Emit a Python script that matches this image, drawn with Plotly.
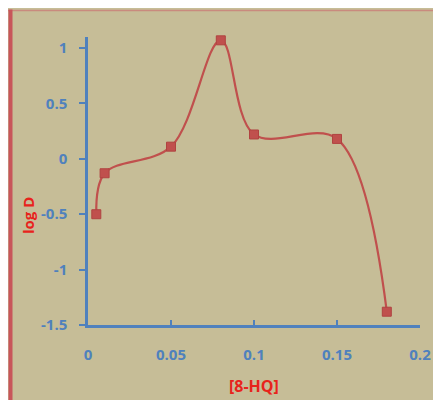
import plotly.graph_objects as go

# Data
hq_conc = [0.005, 0.01, 0.05, 0.08, 0.10, 0.15, 0.18]
log_d = [-0.50, -0.13, 0.11, 1.07, 0.22, 0.18, -1.38]
x_ticks = [0, 0.05, 0.1, 0.15, 0.2]
x_tick_labels = ["0", "0.05", "0.1", "0.15", "0.2"]
y_ticks = [1, 0.5, 0, -0.5, -1, -1.5]
y_tick_labels = ["1", "0.5", "0", "-0.5", "-1", "-1.5"]

# page body has an 8px margin, so figure coordinates are offset by 8px
OFF = 8
W, H = 441, 400
ML, MT = 88 - OFF, 37 - OFF
PLOT_R, PLOT_B = 420 - OFF, 325 - OFF
MR, MB = W - PLOT_R, H - PLOT_B
PW, PH = W - ML - MR, H - MT - MB

def px_x(p):
    return (p - OFF - ML) / PW

def px_y(p):
    return (H - MB - (p - OFF)) / PH

BG = "#C6BD97"
BLUE = "#4F81BD"
RED = "#C0504D"
TITLE_RED = "#E8231C"

fig = go.Figure()
# invisible helper trace on an overlaid axis that only draws the y tick marks
fig.add_trace(go.Scatter(
    x=hq_conc, y=log_d, yaxis="y2", mode="lines",
    line=dict(color="rgba(0,0,0,0)", width=0),
    showlegend=False, hoverinfo="skip",
))
fig.add_trace(go.Scatter(
    x=hq_conc, y=log_d, mode="lines+markers",
    line=dict(color=RED, width=2.2, shape="spline", smoothing=1.0),
    marker=dict(symbol="square", size=9, color=RED, line=dict(color="#B04340", width=1)),
    showlegend=False, cliponaxis=False,
))

shapes = [
    dict(type="line", xref="paper", yref="paper", x0=px_x(8), x1=px_x(W + 20), y0=px_y(10.5), y1=px_y(10.5),
         line=dict(color="#C98A7E", width=1.5), layer="below"),
    dict(type="line", xref="paper", yref="paper", x0=px_x(10.5), x1=px_x(10.5), y0=px_y(H + 20), y1=px_y(9.5),
         line=dict(color="#C8555A", width=4), layer="below"),
]

annotations = [
    dict(text="<b>log D</b>", xref="paper", yref="paper", x=px_x(28), y=px_y(216),
         textangle=-90, showarrow=False, xanchor="center", yanchor="middle",
         font=dict(family="Open Sans", size=15, color=TITLE_RED)),
    dict(text="<b>[8-HQ]</b>", xref="paper", yref="paper", x=px_x(254), y=px_y(386),
         showarrow=False, xanchor="center", yanchor="middle",
         font=dict(family="Open Sans", size=16, color=TITLE_RED)),
]

fig.update_layout(
    width=W, height=H,
    margin=dict(l=ML, r=MR, t=MT, b=MB),
    paper_bgcolor=BG, plot_bgcolor=BG,
    shapes=shapes, annotations=annotations,
    font=dict(family="Open Sans", color=BLUE),
    xaxis=dict(
        range=[0, 0.2], tickvals=x_ticks, ticktext=x_tick_labels,
        showgrid=False, zeroline=False,
        showline=True, linecolor=BLUE, linewidth=2.5,
        ticks="inside", ticklen=5, tickcolor=BLUE, tickwidth=2,
        ticklabelstandoff=14,
        tickfont=dict(family="Open Sans", size=15, color=BLUE, weight="bold"),
    ),
    yaxis=dict(
        range=[-1.5, 1.1], tickvals=y_ticks, ticktext=y_tick_labels,
        showgrid=False, zeroline=False,
        showline=True, linecolor=BLUE, linewidth=2.5,
        ticks="outside", ticklen=6, tickcolor=BLUE, tickwidth=2,
        ticklabelstandoff=9,
        tickfont=dict(family="Open Sans", size=15, color=BLUE, weight="bold"),
    ),
    yaxis2=dict(
        overlaying="y", side="left", range=[-1.5, 1.1], tickvals=y_ticks,
        showgrid=False, zeroline=False, showline=False, showticklabels=False,
        ticks="outside", ticklen=6, tickcolor=BLUE, tickwidth=2,
    ),
)

fig.write_html("out.html")
